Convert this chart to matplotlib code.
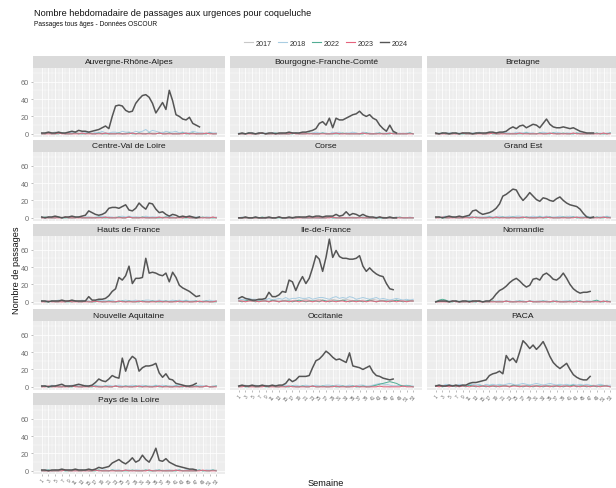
import numpy as np
import matplotlib
matplotlib.use("Agg")
import matplotlib.pyplot as plt
from matplotlib.lines import Line2D
from matplotlib.ticker import FixedLocator

plt.rcParams['font.family'] = ['Liberation Sans', 'DejaVu Sans']

# ---------------------------------------------------------------- data
regions = ["Auvergne-Rhône-Alpes", "Bourgogne-Franche-Comté", "Bretagne",
           "Centre-Val de Loire", "Corse", "Grand Est",
           "Hauts de France", "Ile-de-France", "Normandie",
           "Nouvelle Aquitaine", "Occitanie", "PACA",
           "Pays de la Loire"]
years = ["2017", "2018", "2022", "2023", "2024"]
year_colors = ["#C8C8C8", "#A9CDE2", "#52AD94", "#E5637D", "#555555"]
week_ticks = list(range(1, 54, 2))
y_ticks = [0, 20, 40, 60]

# 2024 weekly counts (season in progress, weeks 1..n)
ara_2024 = [1, 1, 2, 1, 1, 2, 1, 1, 2, 3, 2, 4, 3, 3, 2, 3, 4,
            5, 7, 9, 6, 20, 32, 33, 32, 27, 25, 26, 35, 40, 44, 45, 42, 35, 24,
            30, 36, 28, 50, 38, 22, 20, 17, 16, 19, 12, 10, 8]
bfc_2024 = [0, 1, 0, 1, 1, 0, 1, 1, 0, 1, 1, 0, 1, 1, 1, 2, 1, 1, 1, 2,
            2, 3, 4, 6, 12, 14, 10, 18, 7, 18, 16, 16, 18, 20, 22, 23, 26, 22,
            20, 22, 18, 16, 10, 6, 3, 10, 3, 1]
bre_2024 = [1, 0, 1, 1, 0, 1, 1, 0, 1, 1, 1, 0, 1, 1, 1, 1, 2, 2, 1, 2,
            2, 3, 6, 8, 6, 9, 10, 7, 9, 11, 10, 7, 12, 17, 11, 8, 7, 7, 8, 7,
            6, 7, 5, 3, 2, 1, 1, 1]
cvl_2024 = [1, 0, 1, 1, 2, 1, 0, 1, 1, 2, 1, 1, 2,
            3, 8, 6, 4, 3, 4, 6, 11, 12, 12, 11, 13, 15, 9, 8, 11, 17, 13, 10,
            17, 16, 10, 6, 7, 4, 2, 4, 3, 1, 2, 1, 2, 1, 0, 1]
cor_2024 = [0, 0, 1, 0, 0, 1, 0, 0, 0, 1, 0, 0, 1, 0, 0, 1, 0, 1, 1, 1,
            1, 2, 1, 2, 2, 1, 2, 2, 2, 4, 2, 3, 7, 3, 5, 4, 2, 4, 2, 1,
            1, 0, 1, 0, 0, 1, 0, 0]
ge_2024 = [1, 1, 0, 1, 2, 1, 1, 2, 1, 2,
           3, 8, 9, 6, 4, 5, 6, 8, 11, 16, 25, 27, 30, 33, 32, 25, 20, 24, 29,
           25, 21, 19, 23, 22, 20, 19, 22, 24, 20, 17, 15, 14, 13, 10, 5, 1, 0, 1]
hdf_2024 = [1, 1, 0, 1, 1, 1, 2, 1, 1, 2, 1, 1, 1, 1,
            6, 2, 2, 3, 3, 4, 7, 12, 15, 28, 25, 30, 41, 21, 27, 27, 28, 50, 33,
            34, 33, 31, 30, 33, 23, 34, 28, 19, 16, 14, 12, 9, 6, 7]
idf_2024 = [4, 6, 4, 3, 2, 2, 3, 3, 4, 11, 6, 6, 8, 12, 11, 25, 23, 13, 22, 29,
            21, 27, 39, 53, 49, 35, 51, 72, 51, 59, 52, 50, 50, 49, 49, 50, 53,
            41, 35, 39, 35, 32, 30, 29, 21, 15, 14]
nor_2024 = [0, 1, 1, 1, 0, 1, 1, 0, 1, 1, 0, 1, 1, 1, 0, 1, 1,
            4, 9, 13, 15, 18, 22, 25, 27, 24, 20, 17, 19, 26, 27, 25, 31, 33,
            30, 26, 25, 28, 33, 27, 20, 15, 12, 10, 11, 11, 12]
naq_2024 = [1, 1, 0, 1, 1, 2, 3, 1, 1, 1, 2, 3, 2, 1, 1, 2,
            5, 9, 7, 6, 9, 13, 11, 10, 33, 18, 30, 35, 32, 18, 22, 24, 24, 25,
            27, 16, 11, 15, 9, 8, 4, 3, 2, 1, 1, 2, 4]
occ_2024 = [1, 2, 1, 1, 2, 1, 1, 2, 1, 1, 2, 1, 2,
            2, 4, 9, 6, 8, 12, 12, 12, 13, 22, 30, 32, 36, 41, 38, 34, 31, 32,
            30, 28, 39, 24, 23, 22, 20, 22, 24, 17, 13, 12, 10, 9, 8, 9]
paca_2024 = [1, 2, 1, 1, 2, 1, 2, 1, 2,
             2, 4, 5, 5, 6, 7, 8, 13, 15, 16, 18, 15, 36, 30, 33, 28, 40, 53,
             49, 44, 48, 43, 47, 52, 44, 35, 28, 24, 21, 24, 27, 20, 14, 11, 9,
             8, 8, 12]
pdl_2024 = [1, 1, 0, 1, 1, 1, 2, 1, 1, 1, 2, 1, 1, 1,
            2, 1, 2, 4, 3, 4, 5, 9, 11, 13, 10, 8, 11, 15, 10, 12, 18, 13, 10,
            17, 26, 12, 11, 14, 10, 8, 6, 5, 4, 3, 2, 2, 1]

counts_2024 = [ara_2024, bfc_2024, bre_2024, cvl_2024, cor_2024, ge_2024,
               hdf_2024, idf_2024, nor_2024, naq_2024, occ_2024, paca_2024,
               pdl_2024]

# earlier seasons: one digit per week (weeks 1..53), grouped by five
past_2017 = [
    "10112 01101 21011 10211 01100 12101 10111 02110 11201 10110 101",
    "01010 01100 10010 01001 10100 10011 00101 10010 01010 01101 010",
    "10101 10010 11010 01101 01010 11001 01110 10101 01011 01010 101",
    "01101 01010 10101 10010 10110 01010 11010 01101 01011 00101 010",
    "00100 00010 00100 01000 00010 00100 00001 00100 00010 00100 000",
    "11011 01101 10110 11011 01101 10110 11011 01102 11011 01101 101",
    "11011 10110 11011 01101 11011 01110 11011 01101 10110 11011 011",
    "21212 12121 21212 21212 32123 21232 12321 21212 32121 21212 121",
    "10101 01011 01010 10101 10101 01010 11010 10101 01010 10110 101",
    "10110 11010 11011 01101 10110 11011 01101 10110 11010 11011 011",
    "11011 01110 11011 01101 11011 01110 11011 01101 11011 01110 110",
    "21212 12121 21221 21212 21212 12221 21212 12122 12121 21212 121",
    "10101 10110 10101 01101 01010 11010 10101 01011 01010 10101 011",
]
past_2018 = [
    "01102 11021 10112 02131 12213 22132 35243 21322 31211 32110 211",
    "10011 01010 11001 01110 10121 11021 20112 10211 01101 10010 110",
    "01011 10101 01120 11011 21102 11211 01211 12101 10110 10101 011",
    "10110 10101 11011 01121 11012 12111 02111 10121 01101 01101 101",
    "01000 10000 00100 00010 00100 01000 10010 00100 01000 00100 010",
    "10121 11011 21011 12112 11212 21112 12121 11211 21111 21011 121",
    "01101 21011 10211 01121 12011 21121 12211 21112 12121 11011 211",
    "23243 32324 23435 34454 45345 54356 45465 34543 45343 23432 323",
    "01111 10101 11010 11011 01101 11011 01110 11011 10110 11011 010",
    "11021 10112 11021 12111 21121 11211 21112 12111 21101 11211 011",
    "11211 21121 12112 11211 21121 12212 21121 12211 23433 21121 211",
    "12132 21321 23231 32323 23432 34323 43234 32323 23232 32123 212",
    "01101 01011 01101 11011 01110 11011 01101 10110 11011 01101 110",
]
past_2022 = [
    "00100 01000 10001 00100 00010 01001 00100 10010 00100 10000 100",
    "00010 00100 01000 00100 01000 10000 01000 00010 00100 01000 010",
    "00100 01000 00010 01000 10000 00100 01000 10010 00100 00010 001",
    "01000 10000 01000 00100 00010 01000 10000 00100 01000 00010 000",
    "00000 00100 00000 00010 00000 00100 00000 01000 00000 00010 000",
    "01000 10001 00100 01000 10010 00100 01001 00010 01000 10010 010",
    "10010 01000 10010 00100 10001 01000 10010 00100 10010 01001 000",
    "10121 01110 21011 10121 01110 21011 12101 11012 10111 01210 111",
    "02320 01000 10010 00100 01000 10010 00100 01000 10010 00120 010",
    "01001 00100 10010 01001 00100 10010 01001 00100 10010 01001 001",
    "01001 00100 10010 01001 00100 10010 01001 00100 12345 65421 110",
    "11011 10110 21011 01101 11021 10110 11011 01101 12011 01101 110",
    "00100 01000 10010 00100 01000 00100 01000 10000 01000 00100 010",
]
past_2023 = [
    "00000 10000 00100 00001 00000 00100 00000 10000 00010 00001 000",
    "00000 00100 00000 01000 00000 00001 00000 00100 00000 10000 000",
    "00000 00010 00000 00100 00000 10000 00001 00000 01000 00000 100",
    "00000 00100 00000 00001 00000 01000 00000 10000 00010 00000 010",
    "00000 00000 00100 00000 00000 00010 00000 00000 00100 00000 000",
    "00100 00000 01000 00010 00000 01000 00010 00000 00100 00000 100",
    "00100 00010 00000 01000 00010 00001 00000 10000 01000 00100 001",
    "11011 10110 11011 01101 11011 10110 11011 01101 10110 11011 011",
    "00000 10000 00100 00000 01000 00010 00000 10000 00100 00000 100",
    "00100 00001 00000 10000 00100 00001 00000 10000 00100 00001 000",
    "00100 00010 00000 10000 00100 00001 00000 10000 00100 00001 000",
    "10110 11011 01101 10110 11011 01101 10110 11011 01101 10110 110",
    "00000 00100 00000 01000 00000 10000 00100 00000 10000 00010 000",
]
past_series = [past_2017, past_2018, past_2022, past_2023]


def digits(s):
    return np.array([int(ch) for ch in s if ch.isdigit()], dtype=float)


# ---------------------------------------------------------------- layout
W, H = 616, 489
fig = plt.figure(figsize=(W / 100, H / 100), dpi=100)
fig.patch.set_facecolor("white")


def rect(left, top, width, height):
    return [left / W, 1 - (top + height) / H, width / W, height / H]


col_left = [33, 230, 427]
row_top = [57, 141, 225, 310, 394]
panel_w, strip_h, panel_h = 192, 12, 69
panel_bg = "#EDEDED"
strip_bg = "#DADADA"
x_lim = (-1.6, 55.6)
y_lim = (-3.6, 75.6)

n_rows = 5
for i, region in enumerate(regions):
    r, c = divmod(i, 3)
    ax = fig.add_axes(rect(col_left[c], row_top[r] + strip_h, panel_w, panel_h))
    sx = fig.add_axes(rect(col_left[c], row_top[r], panel_w, strip_h))

    # strip
    sx.set_facecolor(strip_bg)
    sx.set_xticks([]); sx.set_yticks([])
    for sp in sx.spines.values():
        sp.set_visible(False)
    sx.text(0.5, 0.5, region, ha="center", va="center", fontsize=6.1,
            color="#1A1A1A", transform=sx.transAxes)

    # panel
    ax.set_facecolor(panel_bg)
    for sp in ax.spines.values():
        sp.set_visible(False)
    ax.set_xlim(*x_lim)
    ax.set_ylim(*y_lim)
    ax.xaxis.set_major_locator(FixedLocator(week_ticks))
    ax.xaxis.set_minor_locator(FixedLocator([w + 1 for w in week_ticks[:-1]]))
    ax.yaxis.set_major_locator(FixedLocator(y_ticks))
    ax.yaxis.set_minor_locator(FixedLocator([10, 30, 50, 70]))
    ax.grid(which="major", color="white", linewidth=0.55)
    ax.grid(which="minor", color="white", linewidth=0.3)
    ax.set_axisbelow(True)
    ax.tick_params(which="both", length=0)
    ax.tick_params(which="major", length=1.5, width=0.4, color="#8A8A8A",
                   labelsize=5.3, labelcolor="#6E6E6E", pad=1.2)

    if c == 0:
        ax.set_yticklabels([str(v) for v in y_ticks])
    else:
        ax.tick_params(axis="y", which="major", length=0, labelleft=False)

    bottom_of_col = (r == n_rows - 1) or (i + 3 >= len(regions))
    if bottom_of_col:
        ax.set_xticklabels([str(w) for w in week_ticks], rotation=50,
                           ha="right", rotation_mode="anchor", fontsize=3.4)
    else:
        ax.tick_params(axis="x", which="major", length=0, labelbottom=False)

    for k, series in enumerate(past_series):
        vals = digits(series[i])
        ax.plot(np.arange(1, len(vals) + 1), vals, color=year_colors[k],
                linewidth=0.7, solid_joinstyle="round")
    cur = counts_2024[i]
    ax.plot(np.arange(1, len(cur) + 1), cur, color=year_colors[4],
            linewidth=1.1, solid_joinstyle="round")

# ---------------------------------------------------------------- texts
fig.text(34 / W, 1 - 14 / H,
         "Nombre hebdomadaire de passages aux urgences pour coqueluche",
         ha="left", va="center", fontsize=6.6, color="#111111")
fig.text(34 / W, 1 - 25 / H, "Passages tous âges - Données OSCOUR",
         ha="left", va="center", fontsize=4.8, color="#111111")
fig.text(17 / W, 1 - 270 / H, "Nombre de passages", rotation=90,
         ha="center", va="center", fontsize=6.6, color="#111111")
fig.text(326 / W, 1 - 488 / H, "Semaine", ha="center", va="bottom",
         fontsize=6.6, color="#111111")

handles = [Line2D([], [], color=col, linewidth=1.0 if y == "2024" else 0.8)
           for y, col in zip(years, year_colors)]
fig.legend(handles, years, loc="center", bbox_to_anchor=(326 / W, 1 - 44 / H),
           ncol=5, frameon=False, fontsize=5.2, handlelength=1.2,
           handletextpad=0.4, columnspacing=0.9, labelcolor="#333333")

fig.savefig("out.png", dpi=100, facecolor="white")
